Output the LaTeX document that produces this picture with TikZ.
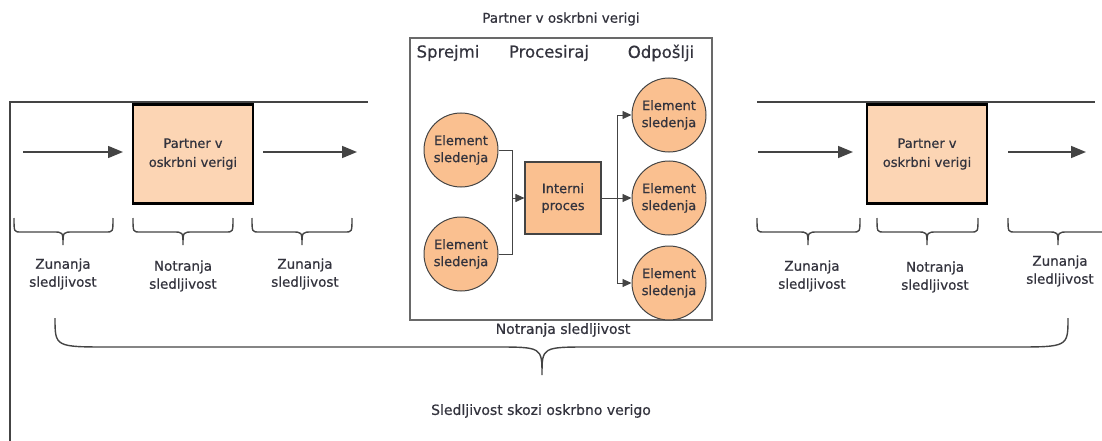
\documentclass[tikz,border=0pt]{standalone}
\usepackage{fontspec}
\setmainfont{DejaVu Sans}[FakeBold=0.6]
\usetikzlibrary{arrows.meta}
\definecolor{peach}{HTML}{FCD5B4}
\definecolor{apricot}{HTML}{FAC090}
\definecolor{ink}{HTML}{33333D}
\definecolor{rule}{HTML}{444444}
% curly brace: x-left, x-right, x-tip, y-ends, y-bar, y-tip, end radius, tip radius
\newcommand\curlybrace[8]{%
  \draw[bracestroke] (#1,#4) .. controls (#1,#5) .. ({#1+#7},#5) -- ({#3-#8},#5)
    .. controls (#3,#5) .. (#3,#6) .. controls (#3,#5) .. ({#3+#8},#5)
    -- ({#2-#7},#5) .. controls (#2,#5) .. (#2,#4);}
\begin{document}
\begin{tikzpicture}[x=1pt,y=-1pt,
  txt/.style={text=ink,inner sep=0pt,align=center},
  lbl/.style={txt,font=\fontsize{13.5}{18}\selectfont},
  partner/.style={draw=black,line width=2.6pt,fill=peach,minimum width=120pt,
    minimum height=99pt,txt,font=\fontsize{13}{19}\selectfont},
  elem/.style={circle,draw=rule,line width=1pt,fill=apricot,minimum size=74pt,
    txt,font=\fontsize{13}{17}\selectfont},
  proc/.style={draw=rule,line width=1.1pt,fill=apricot,minimum width=76pt,
    minimum height=72pt,txt,font=\fontsize{13}{17}\selectfont},
  frame/.style={draw=rule!80,line width=1.4pt,minimum width=302pt,minimum height=282pt,inner sep=0pt},
  flow/.style={draw=rule,line width=1.5pt,-{Triangle[length=15pt,width=12pt]}},
  link/.style={draw=rule,line width=0.9pt},
  linkarrow/.style={link,-{Triangle[length=9pt,width=8pt]}},
  bracestroke/.style={draw=rule,line width=1.4pt},
  chainline/.style={draw=rule,line width=2pt},
  head/.style={txt,font=\fontsize{16.5}{20}\selectfont}]
\useasboundingbox (0,0) rectangle (1102,441);

% ---- outer chain lines ----
\coordinate (lt0) at (10,102);
\coordinate (lt1) at (368,102);
\coordinate (lb) at (10,441);
\coordinate (rt0) at (757,102);
\coordinate (rt1) at (1095,102);
\draw[chainline] (lb) -- (lt0) -- (lt1);
\draw[chainline] (rt0) -- (rt1);

% ---- left partner ----
\node[partner] (pL) at (193,154) {Partner v\\oskrbni verigi};
\coordinate (aL0) at (23,152);
\coordinate (aL1) at (123,152);
\coordinate (aL2) at (263,152);
\coordinate (aL3) at (357,152);
\draw[flow] (aL0) -- (aL1);
\draw[flow] (aL2) -- (aL3);

% ---- right partner ----
\node[partner] (pR) at (927,154) {Partner v\\oskrbni verigi};
\coordinate (aR0) at (758,152);
\coordinate (aR1) at (853,152);
\coordinate (aR2) at (1008,152);
\coordinate (aR3) at (1086,152);
\draw[flow] (aR0) -- (aR1);
\draw[flow] (aR2) -- (aR3);

% ---- small braces and their labels ----
\curlybrace{14}{113}{63}{218}{232}{245}{7}{10}
\curlybrace{133}{233}{183}{218}{232}{245}{7}{10}
\curlybrace{252}{352}{302}{218}{232}{245}{7}{10}
\curlybrace{757}{860}{808}{218}{232}{245}{7}{10}
\curlybrace{877}{978}{927}{218}{232}{245}{7}{10}
\curlybrace{1008}{1108}{1058}{218}{232}{245}{7}{10}
\node[lbl] (z1) at (63,274) {Zunanja\\sledljivost};
\node[lbl] (n1) at (183,276) {Notranja\\sledljivost};
\node[lbl] (z2) at (305,274) {Zunanja\\sledljivost};
\node[lbl] (z3) at (812,276) {Zunanja\\sledljivost};
\node[lbl] (n2) at (935,277) {Notranja\\sledljivost};
\node[lbl] (z4) at (1060,271) {Zunanja\\sledljivost};

% ---- detailed view of one partner ----
\node[txt,font=\fontsize{13.5}{16}\selectfont] (title) at (561,19) {Partner v oskrbni verigi};
\node[frame] (fr) at (561,179) {};
\node[head] (h1) at (448,53) {Sprejmi};
\node[head] (h2) at (549,53) {Procesiraj};
\node[head] (h3) at (661,53) {Odpošlji};

\node[elem] (L1) at (461,150) {Element\\sledenja};
\node[elem] (L2) at (461,254) {Element\\sledenja};
\node[proc] (P) at (563,198) {Interni\\proces};
\node[elem] (R1) at (669,115) {Element\\sledenja};
\node[elem] (R2) at (669,198) {Element\\sledenja};
\node[elem] (R3) at (669,283) {Element\\sledenja};

\coordinate (jl) at (512,198);
\coordinate (jr) at (617,198);
\draw[link] (L1.east) -| (jl);
\draw[link] (L2.east) -| (jl);
\draw[linkarrow] (jl) -- (P.west);
\draw[link] (P.east) -- (jr);
\draw[linkarrow] (jr) |- (R1.west);
\draw[linkarrow] (jr) -- (R2.west);
\draw[linkarrow] (jr) |- (R3.west);

\node[txt,font=\fontsize{14}{16}\selectfont] (inner) at (563,330) {Notranja sledljivost};

% ---- whole-chain brace ----
\curlybrace{55}{1068}{542}{318}{347}{375}{55}{48}
\node[txt,font=\fontsize{14}{16}\selectfont] (chain) at (541,411) {Sledljivost skozi oskrbno verigo};
\end{tikzpicture}
\end{document}
